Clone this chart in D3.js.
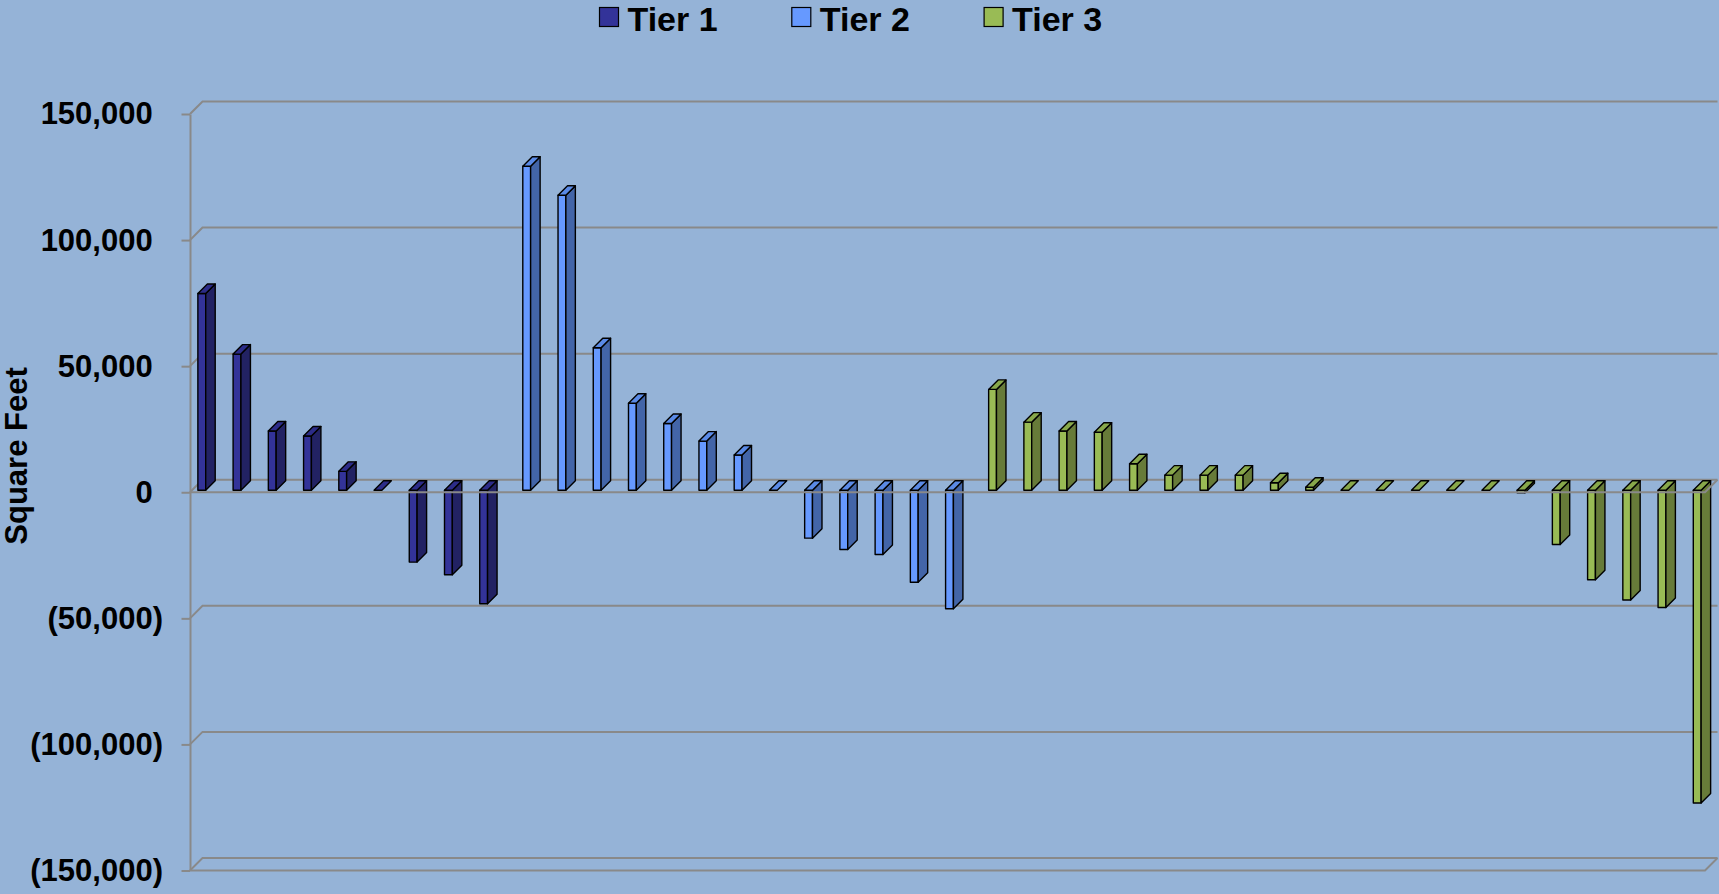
<!DOCTYPE html>
<html>
<head>
<meta charset="utf-8">
<script src="https://cdn.jsdelivr.net/npm/d3@7"></script>
<style>
  html, body { margin: 0; padding: 0; background: #95B3D7; }
  svg { display: block; font-family: "Liberation Sans", Arial, sans-serif; font-weight: bold; }
</style>
</head>
<body>
<svg id="chart" width="1719" height="894"></svg>
<script>
// ---- data ----
const seriesNames = ["Tier 1", "Tier 2", "Tier 3"];
const tier1 = [78000, 54000, 23500, 21500, 7500, 0, -28500, -33500, -45000];
const tier2 = [128500, 117000, 56500, 34500, 26500, 19500, 14000, 0, -19000, -23500, -25500, -36500, -47000];
const tier3 = [40000, 27000, 23500, 23000, 10500, 6000, 6000, 6000, 3000, 1200, 0, 0, 0, 0, 0, -1000, -21500, -35500, -43500, -46500, -124000];
const yTicks = [-150000, -100000, -50000, 0, 50000, 100000, 150000];
const yTitle = "Square Feet";

// ---- styling ----
const palette = {
  "Tier 1": { front: "#333399", top: "#2C2C88", side: "#222263", legend: "#333399" },
  "Tier 2": { front: "#6699FF", top: "#5A8AE6", side: "#4365A8", legend: "#6699FF" },
  "Tier 3": { front: "#99BB55", top: "#88A84B", side: "#677B39", legend: "#99BB55" }
};
const gridColor = "#898989";

// ---- layout ----
const plot = { left: 190, right: 1705, top: 114, bottom: 870.5 };
const wallDepth = 12.5;   // oblique offset of back wall
const barFront = 2;       // bars sit slightly behind the front plane
const barDepth = 9.5;     // oblique depth of each column

const svg = d3.select("#chart");

// one category per bar; each tier occupies its own slot inside the category
const rows = [];
[tier1, tier2, tier3].forEach((arr, s) => arr.forEach(v => rows.push({ series: seriesNames[s], value: v })));
rows.forEach((r, i) => r.cat = i);

const x = d3.scaleBand().domain(rows.map(r => r.cat)).range([plot.left, plot.right]);
const xs = d3.scaleBand().domain(seriesNames).range([0, x.bandwidth()]).paddingOuter(0.75);
const y = d3.scaleLinear().domain([-150000, 150000]).range([plot.bottom, plot.top]);

// ---- walls / gridlines ----
const grid = svg.append("g").attr("fill", "none").attr("stroke", gridColor).attr("stroke-width", 2);
grid.selectAll("path.grid").data(yTicks).join("path")
  .attr("class", "grid")
  .attr("d", t => `M${plot.left},${y(t)}L${plot.left + wallDepth},${y(t) - wallDepth}L${plot.right + wallDepth},${y(t) - wallDepth}`);

// ---- y axis ----
const fmt = d3.format(",");
const yAxis = d3.axisLeft(y)
  .tickValues(yTicks)
  .tickSize(8.5)
  .tickSizeOuter(0)
  .tickPadding(18.5)
  .tickFormat(v => v < 0 ? `(${fmt(-v)})` : fmt(v));

const axisG = svg.append("g").attr("transform", `translate(${plot.left},0)`).call(yAxis);
axisG.select(".domain").attr("stroke", gridColor).attr("stroke-width", 2);
axisG.selectAll(".tick line").attr("stroke", gridColor).attr("stroke-width", 2);
axisG.selectAll(".tick text")
  .attr("fill", "#000")
  .attr("font-size", 31)
  .attr("font-weight", "bold")
  .attr("font-family", "'Liberation Sans', Arial, sans-serif")
  .attr("dx", v => v < 0 ? 0 : "-0.333em");

svg.append("text")
  .attr("transform", `translate(27,456) rotate(-90)`)
  .attr("text-anchor", "middle")
  .attr("font-size", 31)
  .attr("fill", "#000")
  .text(yTitle);

// ---- columns ----
const bars = svg.append("g")
  .attr("stroke", "#000")
  .attr("stroke-width", 1.4)
  .attr("stroke-linejoin", "round");

const barG = bars.selectAll("g.bar").data(rows).join("g").attr("class", "bar");

function geom(d) {
  const xf = x(d.cat) + xs(d.series) + barFront;
  const xr = xf + xs.bandwidth();
  const yTop = y(Math.max(d.value, 0)) - barFront;
  const yBot = y(Math.min(d.value, 0)) - barFront;
  return { xf, xr, yTop, yBot, dd: barDepth };
}

barG.filter(d => d.value !== 0).append("path")
  .attr("fill", d => palette[d.series].front)
  .attr("d", d => { const g = geom(d); return `M${g.xf},${g.yTop}H${g.xr}V${g.yBot}H${g.xf}Z`; });

barG.filter(d => d.value !== 0).append("path")
  .attr("fill", d => palette[d.series].side)
  .attr("d", d => { const g = geom(d);
    return `M${g.xr},${g.yTop}L${g.xr + g.dd},${g.yTop - g.dd}V${g.yBot - g.dd}L${g.xr},${g.yBot}Z`; });

barG.append("path")
  .attr("fill", d => palette[d.series].top)
  .attr("d", d => { const g = geom(d);
    return `M${g.xf},${g.yTop}L${g.xf + g.dd},${g.yTop - g.dd}H${g.xr + g.dd}L${g.xr},${g.yTop}Z`; });

// ---- floor edges / category axis ----
const edges = svg.append("g").attr("fill", "none").attr("stroke", gridColor).attr("stroke-width", 2);
[0, -150000].forEach(t => {
  edges.append("path")
    .attr("d", `M${plot.left},${y(t)}H${plot.right}L${plot.right + wallDepth},${y(t) - wallDepth}`);
});

// ---- legend ----
const legend = svg.append("g").attr("transform", "translate(599.5,7.5)");
const item = legend.selectAll("g").data(seriesNames).join("g")
  .attr("transform", (d, i) => `translate(${i * 192.3},0)`);
item.append("rect")
  .attr("width", 19).attr("height", 19)
  .attr("fill", d => palette[d].legend)
  .attr("stroke", "#000").attr("stroke-width", 1.2);
item.append("text")
  .attr("x", 28).attr("y", 23.5)
  .attr("font-size", 34)
  .attr("fill", "#000")
  .text(d => d);
</script>
</body>
</html>
